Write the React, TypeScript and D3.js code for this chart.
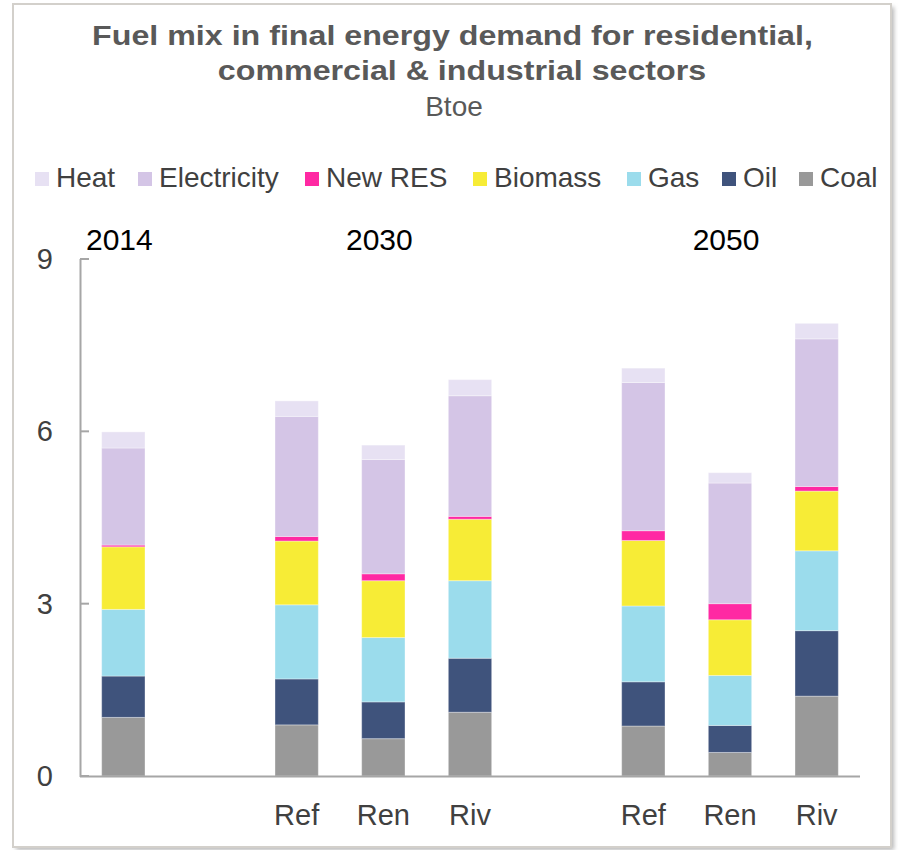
import React from "react";
import * as d3 from "d3";

const slots = ["2014", "gap1", "Ref2030", "Ren2030", "Riv2030", "gap2", "Ref2050", "Ren2050", "Riv2050"];
const slotLabels = ["", "", "Ref", "Ren", "Riv", "", "Ref", "Ren", "Riv"];
const yearLabels = ["2014", "2030", "2050"];
const yearSlots = ["2014", "Ren2030", "Ren2050"];

const seriesNames = ["Coal", "Oil", "Gas", "Biomass", "New RES", "Electricity", "Heat"];
const seriesColors = ["#999999", "#3f537c", "#9bdcec", "#f7ec36", "#ff29a3", "#d4c5e6", "#e7e1f3"];

const coal = [1.02, 0, 0.89, 0.65, 1.11, 0, 0.87, 0.41, 1.39];
const oil = [0.72, 0, 0.8, 0.64, 0.94, 0, 0.77, 0.47, 1.14];
const gas = [1.16, 0, 1.29, 1.12, 1.35, 0, 1.32, 0.87, 1.39];
const biomass = [1.09, 0, 1.11, 0.99, 1.07, 0, 1.14, 0.97, 1.04];
const newRES = [0.03, 0, 0.08, 0.12, 0.05, 0, 0.17, 0.28, 0.08];
const electricity = [1.69, 0, 2.09, 1.99, 2.1, 0, 2.58, 2.1, 2.57];
const heat = [0.28, 0, 0.27, 0.25, 0.28, 0, 0.25, 0.18, 0.27];

const yTicks = [0, 3, 6, 9];

const legendOrder = ["Heat", "Electricity", "New RES", "Biomass", "Gas", "Oil", "Coal"];
const legendX = [35, 138, 305, 473, 627, 722, 799];

const W = 901;
const H = 850;
const FONT = "'Liberation Sans', Arial, sans-serif";

export default function App() {
  const seriesValues = [coal, oil, gas, biomass, newRES, electricity, heat];
  const rows = slots.map((s, i) => {
    const r: any = { slot: s };
    seriesNames.forEach((n, k) => (r[n] = seriesValues[k][i]));
    return r;
  });
  const stack = d3.stack<any>().keys(seriesNames)(rows);

  const x = d3.scaleBand<string>().domain(slots).range([80, 860]).paddingInner(0.5).paddingOuter(0.25);
  const y = d3.scaleLinear().domain([0, 9]).range([776, 259]);
  const color = d3.scaleOrdinal<string, string>().domain(seriesNames).range(seriesColors);
  const bw = x.bandwidth();

  return (
    <svg width={W} height={H} style={{ position: "absolute", left: 0, top: 0, background: "#fff" }} fontFamily={FONT}>
      <defs>
        <filter id="shadow" x="-5%" y="-5%" width="110%" height="110%">
          <feGaussianBlur stdDeviation="2" />
        </filter>
      </defs>
      <rect x={16} y={7} width={878} height={843} fill="#b8b8b8" filter="url(#shadow)" />
      <rect x={13} y={4} width={878} height={843} fill="#fff" stroke="#d3d0cb" strokeWidth={2} />

      <g transform="translate(452.5,44.5) scale(1.13,1)">
        <text x={0} y={0} textAnchor="middle" fontSize={28.5} fontWeight="bold" fill="#595959">
          Fuel mix in final energy demand for residential,
        </text>
      </g>
      <g transform="translate(462,80) scale(1.13,1)">
        <text x={0} y={0} textAnchor="middle" fontSize={28.5} fontWeight="bold" fill="#595959">
          commercial &amp; industrial sectors
        </text>
      </g>
      <text x={454} y={116} textAnchor="middle" fontSize={28} fill="#595959">
        Btoe
      </text>

      {legendOrder.map((name, i) => (
        <g key={name} transform={`translate(${legendX[i]},0)`}>
          <rect x={0} y={172} width={14} height={14} fill={color(name)} />
          <text x={21} y={187} fontSize={28} fill="#404040">
            {name}
          </text>
        </g>
      ))}

      {stack.map((layer) => (
        <g key={layer.key} fill={color(layer.key)}>
          {layer.map((d, i) =>
            d[1] - d[0] > 0 ? (
              <rect
                key={i}
                x={x(slots[i])}
                y={y(d[1])}
                width={bw}
                height={y(d[0]) - y(d[1])}
                stroke="#ffffff"
                strokeOpacity={0.35}
                strokeWidth={1}
              />
            ) : null
          )}
        </g>
      ))}

      <line x1={80.5} x2={80.5} y1={259} y2={777} stroke="#a6a6a6" strokeWidth={2} />
      <line x1={80} x2={860} y1={776.5} y2={776.5} stroke="#a6a6a6" strokeWidth={2} />
      {yTicks.map((t) => (
        <g key={t}>
          <line x1={80} x2={89} y1={y(t)} y2={y(t)} stroke="#a6a6a6" strokeWidth={2} />
          <text x={53} y={y(t)} dy="0.35em" textAnchor="end" fontSize={29} fill="#404040">
            {t}
          </text>
        </g>
      ))}

      {slots.map((s, i) =>
        slotLabels[i] ? (
          <text key={s} x={(x(s) as number) + bw / 2} y={825} textAnchor="middle" fontSize={29} fill="#404040">
            {slotLabels[i]}
          </text>
        ) : null
      )}

      {yearLabels.map((lab, i) => (
        <text key={lab} x={(x(yearSlots[i]) as number) + bw / 2 - 4} y={249.5} textAnchor="middle" fontSize={30} fill="#000">
          {lab}
        </text>
      ))}
    </svg>
  );
}
